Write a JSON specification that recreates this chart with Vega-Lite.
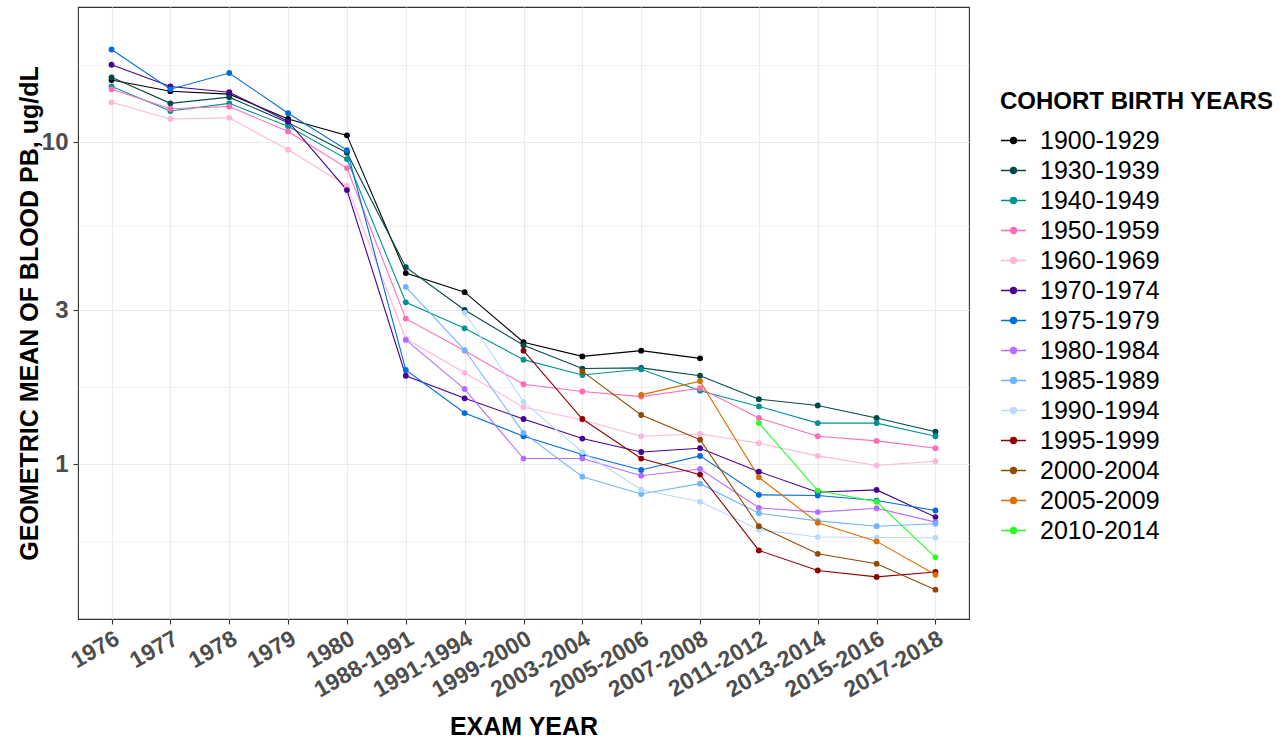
{
  "$schema": "https://vega.github.io/schema/vega-lite/v6.json",
  "width": 891,
  "height": 612,
  "autosize": {"type": "none"},
  "padding": {"left": 78, "top": 7, "right": 312, "bottom": 119},
  "background": "white",
  "config": {
    "font": "Liberation Sans",
    "view": {"stroke": "#333333", "strokeWidth": 1.1},
    "axis": {"domain": false, "gridColor": "#EBEBEB", "tickColor": "#333333", "tickSize": 5, "tickWidth": 1.1}
  },
  "data": {
    "values": [
      {"cohort": "1900-1929", "exam": "1976", "pb": 15.6},
      {"cohort": "1900-1929", "exam": "1977", "pb": 14.4},
      {"cohort": "1900-1929", "exam": "1978", "pb": 14.1},
      {"cohort": "1900-1929", "exam": "1979", "pb": 11.8},
      {"cohort": "1900-1929", "exam": "1980", "pb": 10.5},
      {"cohort": "1900-1929", "exam": "1988-1991", "pb": 3.92},
      {"cohort": "1900-1929", "exam": "1991-1994", "pb": 3.42},
      {"cohort": "1900-1929", "exam": "1999-2000", "pb": 2.39},
      {"cohort": "1900-1929", "exam": "2003-2004", "pb": 2.16},
      {"cohort": "1900-1929", "exam": "2005-2006", "pb": 2.25},
      {"cohort": "1900-1929", "exam": "2007-2008", "pb": 2.13},

      {"cohort": "1930-1939", "exam": "1976", "pb": 15.9},
      {"cohort": "1930-1939", "exam": "1977", "pb": 13.2},
      {"cohort": "1930-1939", "exam": "1978", "pb": 13.8},
      {"cohort": "1930-1939", "exam": "1979", "pb": 11.5},
      {"cohort": "1930-1939", "exam": "1980", "pb": 9.27},
      {"cohort": "1930-1939", "exam": "1988-1991", "pb": 4.09},
      {"cohort": "1930-1939", "exam": "1991-1994", "pb": 3.01},
      {"cohort": "1930-1939", "exam": "1999-2000", "pb": 2.34},
      {"cohort": "1930-1939", "exam": "2003-2004", "pb": 1.98},
      {"cohort": "1930-1939", "exam": "2005-2006", "pb": 1.99},
      {"cohort": "1930-1939", "exam": "2007-2008", "pb": 1.88},
      {"cohort": "1930-1939", "exam": "2011-2012", "pb": 1.59},
      {"cohort": "1930-1939", "exam": "2013-2014", "pb": 1.52},
      {"cohort": "1930-1939", "exam": "2015-2016", "pb": 1.39},
      {"cohort": "1930-1939", "exam": "2017-2018", "pb": 1.26},

      {"cohort": "1940-1949", "exam": "1976", "pb": 14.9},
      {"cohort": "1940-1949", "exam": "1977", "pb": 12.5},
      {"cohort": "1940-1949", "exam": "1978", "pb": 13.2},
      {"cohort": "1940-1949", "exam": "1979", "pb": 11.2},
      {"cohort": "1940-1949", "exam": "1980", "pb": 8.86},
      {"cohort": "1940-1949", "exam": "1988-1991", "pb": 3.18},
      {"cohort": "1940-1949", "exam": "1991-1994", "pb": 2.64},
      {"cohort": "1940-1949", "exam": "1999-2000", "pb": 2.11},
      {"cohort": "1940-1949", "exam": "2003-2004", "pb": 1.89},
      {"cohort": "1940-1949", "exam": "2005-2006", "pb": 1.97},
      {"cohort": "1940-1949", "exam": "2007-2008", "pb": 1.69},
      {"cohort": "1940-1949", "exam": "2011-2012", "pb": 1.51},
      {"cohort": "1940-1949", "exam": "2013-2014", "pb": 1.34},
      {"cohort": "1940-1949", "exam": "2015-2016", "pb": 1.34},
      {"cohort": "1940-1949", "exam": "2017-2018", "pb": 1.22},

      {"cohort": "1950-1959", "exam": "1976", "pb": 14.6},
      {"cohort": "1950-1959", "exam": "1977", "pb": 12.7},
      {"cohort": "1950-1959", "exam": "1978", "pb": 12.9},
      {"cohort": "1950-1959", "exam": "1979", "pb": 10.8},
      {"cohort": "1950-1959", "exam": "1980", "pb": 8.31},
      {"cohort": "1950-1959", "exam": "1988-1991", "pb": 2.83},
      {"cohort": "1950-1959", "exam": "1991-1994", "pb": 2.25},
      {"cohort": "1950-1959", "exam": "1999-2000", "pb": 1.77},
      {"cohort": "1950-1959", "exam": "2003-2004", "pb": 1.68},
      {"cohort": "1950-1959", "exam": "2005-2006", "pb": 1.62},
      {"cohort": "1950-1959", "exam": "2007-2008", "pb": 1.72},
      {"cohort": "1950-1959", "exam": "2011-2012", "pb": 1.39},
      {"cohort": "1950-1959", "exam": "2013-2014", "pb": 1.22},
      {"cohort": "1950-1959", "exam": "2015-2016", "pb": 1.18},
      {"cohort": "1950-1959", "exam": "2017-2018", "pb": 1.12},

      {"cohort": "1960-1969", "exam": "1976", "pb": 13.3},
      {"cohort": "1960-1969", "exam": "1977", "pb": 11.8},
      {"cohort": "1960-1969", "exam": "1978", "pb": 11.9},
      {"cohort": "1960-1969", "exam": "1979", "pb": 9.47},
      {"cohort": "1960-1969", "exam": "1980", "pb": 7.31},
      {"cohort": "1960-1969", "exam": "1988-1991", "pb": 2.45},
      {"cohort": "1960-1969", "exam": "1991-1994", "pb": 1.92},
      {"cohort": "1960-1969", "exam": "1999-2000", "pb": 1.5},
      {"cohort": "1960-1969", "exam": "2003-2004", "pb": 1.37},
      {"cohort": "1960-1969", "exam": "2005-2006", "pb": 1.22},
      {"cohort": "1960-1969", "exam": "2007-2008", "pb": 1.24},
      {"cohort": "1960-1969", "exam": "2011-2012", "pb": 1.16},
      {"cohort": "1960-1969", "exam": "2013-2014", "pb": 1.06},
      {"cohort": "1960-1969", "exam": "2015-2016", "pb": 0.99},
      {"cohort": "1960-1969", "exam": "2017-2018", "pb": 1.02},

      {"cohort": "1970-1974", "exam": "1976", "pb": 17.4},
      {"cohort": "1970-1974", "exam": "1977", "pb": 14.9},
      {"cohort": "1970-1974", "exam": "1978", "pb": 14.3},
      {"cohort": "1970-1974", "exam": "1979", "pb": 11.6},
      {"cohort": "1970-1974", "exam": "1980", "pb": 7.1},
      {"cohort": "1970-1974", "exam": "1988-1991", "pb": 1.88},
      {"cohort": "1970-1974", "exam": "1991-1994", "pb": 1.6},
      {"cohort": "1970-1974", "exam": "1999-2000", "pb": 1.38},
      {"cohort": "1970-1974", "exam": "2003-2004", "pb": 1.2},
      {"cohort": "1970-1974", "exam": "2005-2006", "pb": 1.09},
      {"cohort": "1970-1974", "exam": "2007-2008", "pb": 1.12},
      {"cohort": "1970-1974", "exam": "2011-2012", "pb": 0.947},
      {"cohort": "1970-1974", "exam": "2013-2014", "pb": 0.817},
      {"cohort": "1970-1974", "exam": "2015-2016", "pb": 0.831},
      {"cohort": "1970-1974", "exam": "2017-2018", "pb": 0.684},

      {"cohort": "1975-1979", "exam": "1976", "pb": 19.4},
      {"cohort": "1975-1979", "exam": "1977", "pb": 14.6},
      {"cohort": "1975-1979", "exam": "1978", "pb": 16.4},
      {"cohort": "1975-1979", "exam": "1979", "pb": 12.3},
      {"cohort": "1975-1979", "exam": "1980", "pb": 9.45},
      {"cohort": "1975-1979", "exam": "1988-1991", "pb": 1.96},
      {"cohort": "1975-1979", "exam": "1991-1994", "pb": 1.44},
      {"cohort": "1975-1979", "exam": "1999-2000", "pb": 1.22},
      {"cohort": "1975-1979", "exam": "2003-2004", "pb": 1.07},
      {"cohort": "1975-1979", "exam": "2005-2006", "pb": 0.958},
      {"cohort": "1975-1979", "exam": "2007-2008", "pb": 1.06},
      {"cohort": "1975-1979", "exam": "2011-2012", "pb": 0.802},
      {"cohort": "1975-1979", "exam": "2013-2014", "pb": 0.798},
      {"cohort": "1975-1979", "exam": "2015-2016", "pb": 0.77},
      {"cohort": "1975-1979", "exam": "2017-2018", "pb": 0.717},

      {"cohort": "1980-1984", "exam": "1988-1991", "pb": 2.43},
      {"cohort": "1980-1984", "exam": "1991-1994", "pb": 1.71},
      {"cohort": "1980-1984", "exam": "1999-2000", "pb": 1.04},
      {"cohort": "1980-1984", "exam": "2003-2004", "pb": 1.04},
      {"cohort": "1980-1984", "exam": "2005-2006", "pb": 0.92},
      {"cohort": "1980-1984", "exam": "2007-2008", "pb": 0.965},
      {"cohort": "1980-1984", "exam": "2011-2012", "pb": 0.731},
      {"cohort": "1980-1984", "exam": "2013-2014", "pb": 0.709},
      {"cohort": "1980-1984", "exam": "2015-2016", "pb": 0.729},
      {"cohort": "1980-1984", "exam": "2017-2018", "pb": 0.66},

      {"cohort": "1985-1989", "exam": "1988-1991", "pb": 3.55},
      {"cohort": "1985-1989", "exam": "1991-1994", "pb": 2.26},
      {"cohort": "1985-1989", "exam": "1999-2000", "pb": 1.25},
      {"cohort": "1985-1989", "exam": "2003-2004", "pb": 0.913},
      {"cohort": "1985-1989", "exam": "2005-2006", "pb": 0.807},
      {"cohort": "1985-1989", "exam": "2007-2008", "pb": 0.869},
      {"cohort": "1985-1989", "exam": "2011-2012", "pb": 0.703},
      {"cohort": "1985-1989", "exam": "2013-2014", "pb": 0.666},
      {"cohort": "1985-1989", "exam": "2015-2016", "pb": 0.641},
      {"cohort": "1985-1989", "exam": "2017-2018", "pb": 0.652},

      {"cohort": "1990-1994", "exam": "1991-1994", "pb": 2.95},
      {"cohort": "1990-1994", "exam": "1999-2000", "pb": 1.56},
      {"cohort": "1990-1994", "exam": "2003-2004", "pb": 1.09},
      {"cohort": "1990-1994", "exam": "2005-2006", "pb": 0.832},
      {"cohort": "1990-1994", "exam": "2007-2008", "pb": 0.764},
      {"cohort": "1990-1994", "exam": "2011-2012", "pb": 0.625},
      {"cohort": "1990-1994", "exam": "2013-2014", "pb": 0.593},
      {"cohort": "1990-1994", "exam": "2015-2016", "pb": 0.591},
      {"cohort": "1990-1994", "exam": "2017-2018", "pb": 0.59},

      {"cohort": "1995-1999", "exam": "1999-2000", "pb": 2.25},
      {"cohort": "1995-1999", "exam": "2003-2004", "pb": 1.38},
      {"cohort": "1995-1999", "exam": "2005-2006", "pb": 1.04},
      {"cohort": "1995-1999", "exam": "2007-2008", "pb": 0.927},
      {"cohort": "1995-1999", "exam": "2011-2012", "pb": 0.539},
      {"cohort": "1995-1999", "exam": "2013-2014", "pb": 0.467},
      {"cohort": "1995-1999", "exam": "2015-2016", "pb": 0.446},
      {"cohort": "1995-1999", "exam": "2017-2018", "pb": 0.462},

      {"cohort": "2000-2004", "exam": "2003-2004", "pb": 1.94},
      {"cohort": "2000-2004", "exam": "2005-2006", "pb": 1.42},
      {"cohort": "2000-2004", "exam": "2007-2008", "pb": 1.19},
      {"cohort": "2000-2004", "exam": "2011-2012", "pb": 0.641},
      {"cohort": "2000-2004", "exam": "2013-2014", "pb": 0.526},
      {"cohort": "2000-2004", "exam": "2015-2016", "pb": 0.49},
      {"cohort": "2000-2004", "exam": "2017-2018", "pb": 0.407},

      {"cohort": "2005-2009", "exam": "2005-2006", "pb": 1.64},
      {"cohort": "2005-2009", "exam": "2007-2008", "pb": 1.81},
      {"cohort": "2005-2009", "exam": "2011-2012", "pb": 0.909},
      {"cohort": "2005-2009", "exam": "2013-2014", "pb": 0.657},
      {"cohort": "2005-2009", "exam": "2015-2016", "pb": 0.575},
      {"cohort": "2005-2009", "exam": "2017-2018", "pb": 0.453},

      {"cohort": "2010-2014", "exam": "2011-2012", "pb": 1.34},
      {"cohort": "2010-2014", "exam": "2013-2014", "pb": 0.827},
      {"cohort": "2010-2014", "exam": "2015-2016", "pb": 0.764},
      {"cohort": "2010-2014", "exam": "2017-2018", "pb": 0.513}
    ]
  },
  "mark": {"type": "line", "strokeWidth": 1.1, "point": {"filled": true, "size": 34, "opacity": 1}},
  "encoding": {
    "x": {
      "field": "exam",
      "type": "ordinal",
      "sort": ["1976","1977","1978","1979","1980","1988-1991","1991-1994","1999-2000","2003-2004","2005-2006","2007-2008","2011-2012","2013-2014","2015-2016","2017-2018"],
      "scale": {"type": "point", "padding": 0.57},
      "axis": {
        "title": "EXAM YEAR",
        "titleFontSize": 25,
        "titleFontWeight": "bold",
        "titleColor": "#000000",
        "titleBaseline": "alphabetic",
        "titleY": 115,
        "labelAngle": -30,
        "labelAlign": "right",
        "labelBaseline": "top",
        "labelFontSize": 23,
        "labelFontWeight": "bold",
        "labelColor": "#4D4D4D",
        "labelPadding": 3,
        "labelOverlap": false,
        "labelBound": false,
        "grid": true,
        "gridWidth": 1.1
      }
    },
    "y": {
      "field": "pb",
      "type": "quantitative",
      "scale": {"type": "log", "domain": [0.33, 26.3], "nice": false, "zero": false},
      "axis": {
        "title": "GEOMETRIC MEAN OF BLOOD PB, ug/dL",
        "titleFontSize": 25,
        "titleFontWeight": "bold",
        "titleColor": "#000000",
        "titleBaseline": "alphabetic",
        "titleAlign": "center",
        "titleX": -41,
        "titleY": 306,
        "values": [0.5774, 1, 1.732, 3, 5.477, 10, 17.32],
        "labelExpr": "indexof([1,3,10], datum.value) >= 0 ? '' + datum.value : ''",
        "labelFontSize": 24,
        "labelFontWeight": "bold",
        "labelColor": "#4D4D4D",
        "labelPadding": 5,
        "tickOpacity": {"condition": {"test": "indexof([1,3,10], datum.value) < 0", "value": 0}, "value": 1},
        "gridWidth": {"condition": {"test": "indexof([1,3,10], datum.value) < 0", "value": 0.6}, "value": 1.1},
        "grid": true
      }
    },
    "color": {
      "field": "cohort",
      "type": "nominal",
      "scale": {
        "domain": ["1900-1929","1930-1939","1940-1949","1950-1959","1960-1969","1970-1974","1975-1979","1980-1984","1985-1989","1990-1994","1995-1999","2000-2004","2005-2009","2010-2014"],
        "range": ["#000000","#004949","#009292","#ff6db6","#ffb6db","#490092","#006ddb","#b66dff","#6db6ff","#b6dbff","#920000","#924900","#db6d00","#24ff24"]
      },
      "legend": {
        "title": "COHORT BIRTH YEARS",
        "orient": "none",
        "legendX": 922,
        "legendY": 83,
        "padding": 0,
        "titleFontSize": 24,
        "titleFontWeight": "bold",
        "titleColor": "#000000",
        "titleLimit": 400,
        "titlePadding": 13,
        "labelFontSize": 25,
        "labelColor": "#000000",
        "labelLimit": 300,
        "labelOffset": 13,
        "rowPadding": 3,
        "symbolType": "M-1,0L1,0M0.24,0A0.24,0.24,0,1,1,-0.24,0A0.24,0.24,0,1,1,0.24,0Z",
        "symbolSize": 625,
        "symbolStrokeWidth": 1.3,
        "symbolOffset": 0,
        "encode": {
          "symbols": {
            "update": {
              "fill": {"scale": "color", "field": "value"},
              "stroke": {"scale": "color", "field": "value"},
              "opacity": {"value": 1}
            }
          }
        }
      }
    }
  }
}
